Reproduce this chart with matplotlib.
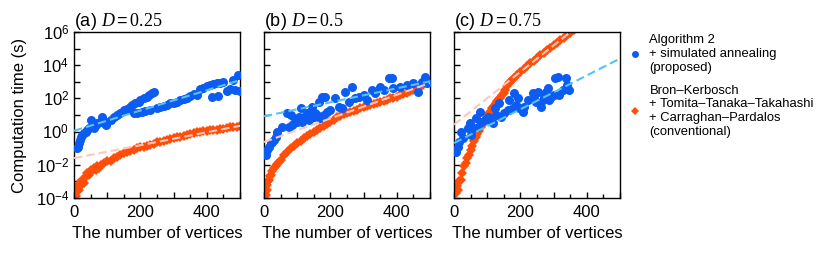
import numpy as np
import matplotlib
matplotlib.use("Agg")
import matplotlib.pyplot as plt
from matplotlib.lines import Line2D
from matplotlib.ticker import MultipleLocator, LogLocator, FuncFormatter, NullFormatter

plt.rcParams['font.family'] = ['Liberation Sans', 'DejaVu Sans']
plt.rcParams['mathtext.fontset'] = 'custom'
plt.rcParams['mathtext.rm'] = 'Liberation Sans'
plt.rcParams['mathtext.it'] = 'Liberation Serif:italic'
plt.rcParams['mathtext.tt'] = 'Liberation Serif'

BLUE = '#0c5cf2'
ORANGE = '#ff4d0a'
BLUE_FIT = '#55c2f2'
PINK_FIT = '#ffc6ba'

# ---- (a) D = 0.25 : values stored as log10(seconds) ----
a_blue_x = [8, 12, 15, 18, 20, 25, 30, 35, 40, 45, 50, 55, 60, 65, 70, 80, 85, 90, 95, 100,
            110, 120, 130, 140, 150, 160, 170, 175, 180, 185, 190, 195, 200, 205, 210, 215,
            220, 225, 230, 235, 240, 250, 260, 270, 280, 290, 300, 310, 320, 330, 340, 350,
            360, 370, 380, 390, 400, 410, 415, 420, 430, 435, 440, 450, 460, 470, 480, 485, 495, 500]
a_blue_log = [-1.0, -0.9, -0.7, -0.5, -0.3, -0.2, -0.1, 0.0, 0.1, 0.2, 0.7, 0.3, 0.2, 0.4, 0.5,
              0.6, 0.9, 0.5, 0.4, 0.6, 0.7, 0.9, 1.0, 1.1, 1.3, 1.35, 1.5, 1.6, 1.15, 1.7, 1.1,
              1.8, 1.9, 1.2, 2.0, 1.25, 2.1, 2.2, 1.3, 2.3, 2.4, 1.4, 1.5, 1.55, 1.6, 1.7, 1.75,
              1.8, 1.9, 1.95, 2.05, 2.15, 2.25, 2.2, 2.55, 2.65, 2.75, 2.8, 2.1, 2.85, 2.9, 2.15,
              2.95, 3.0, 2.45, 2.55, 3.1, 2.5, 3.4, 2.45]
a_orange_x = [5, 8, 10, 12, 15, 18, 20, 22, 25, 28, 30, 35, 40, 45, 50, 55, 60, 65, 70, 75, 80,
              90, 100, 110, 120, 130, 140, 150, 160, 170, 180, 190, 200, 210, 220, 230, 240, 250,
              260, 270, 280, 290, 300, 310, 320, 330, 340, 350, 360, 370, 380, 390, 400, 410,
              420, 430, 440, 450, 460, 470, 480, 490, 500]
a_orange_log = [-3.9, -3.6, -3.4, -3.2, -3.5, -3.3, -3.0, -3.2, -3.0, -2.9, -3.1, -2.7, -2.5,
                -2.6, -2.3, -2.4, -2.2, -2.3, -2.1, -2.2, -2.0, -1.9, -1.8, -1.75, -1.6, -1.5,
                -1.4, -1.3, -1.2, -1.15, -1.1, -1.0, -0.95, -0.9, -0.85, -0.8, -0.72, -0.65,
                -0.6, -0.55, -0.5, -0.45, -0.4, -0.35, -0.3, -0.25, -0.2, -0.15, -0.1, -0.05,
                0.0, 0.02, 0.05, 0.08, 0.1, 0.12, 0.15, 0.18, 0.2, 0.25, 0.28, 0.3, 0.35]
a_blue_fit = [0.05, 3.1]
a_pink_fit = [-1.6, 0.35]

# ---- (b) D = 0.5 ----
b_blue_x = [5, 10, 15, 20, 25, 30, 35, 40, 55, 70, 75, 80, 85, 90, 95, 100, 105, 110, 115, 120,
            125, 130, 135, 140, 145, 150, 155, 160, 165, 170, 175, 180, 185, 190, 200, 215, 225,
            235, 245, 255, 265, 275, 285, 300, 310, 325, 335, 350, 360, 375, 385, 390, 410, 430,
            450, 465, 475, 485, 490]
b_blue_log = [-1.4, -1.1, -0.9, -0.7, -0.6, -0.5, -0.3, 0.0, 0.3, 1.1, 0.3, 1.0, 0.4, 0.5, 0.7,
              0.6, 0.9, 1.4, 0.6, 0.9, 0.8, 1.1, 0.7, 0.8, 1.5, 0.9, 1.1, 1.0, 1.8, 0.8, 2.1, 1.0,
              2.1, 1.2, 1.3, 2.0, 1.5, 1.45, 2.4, 1.8, 2.7, 2.0, 2.1, 2.2, 1.9, 2.5, 2.3, 2.7, 2.5,
              3.2, 3.2, 2.6, 2.7, 2.8, 2.9, 2.4, 3.0, 3.3, 2.9]
b_orange_x = [5, 8, 10, 12, 15, 18, 20, 25, 30, 35, 40, 45, 50, 60, 70, 80, 90, 100, 110, 120,
              130, 140, 150, 160, 170, 180, 190, 200, 210, 220, 230, 240, 250, 260, 270, 280,
              290, 300, 310, 320, 330, 340, 350, 360, 370, 380, 390, 400, 410, 420, 430, 440,
              450, 460, 470, 480, 490, 500]
b_orange_log = [-3.8, -3.5, -3.2, -3.0, -2.9, -2.7, -2.6, -2.4, -2.2, -2.1, -1.95, -1.85, -1.7,
                -1.4, -1.2, -1.0, -0.85, -0.7, -0.55, -0.4, -0.28, -0.15, -0.02, 0.1, 0.22,
                0.35, 0.48, 0.6, 0.72, 0.85, 0.95, 1.05, 1.1, 1.17, 1.25, 1.32, 1.4, 1.46, 1.52,
                1.6, 1.67, 1.74, 1.8, 1.86, 1.92, 2.0, 2.05, 2.1, 2.18, 2.26, 2.34, 2.42, 2.5,
                2.6, 2.7, 2.8, 2.9, 2.98]
b_blue_fit = [0.92, 3.03]
b_pink_fit = [-0.63, 2.93]

# ---- (c) D = 0.75 ----
c_blue_x = [7, 12, 14, 22, 27, 42, 47, 52, 57, 67, 72, 77, 82, 92, 102, 107, 117, 122, 127, 137,
            142, 152, 162, 167, 177, 182, 187, 192, 197, 207, 212, 222, 237, 242, 247, 252, 262,
            267, 272, 277, 282, 287, 292, 302, 304, 312, 317, 327, 337, 340, 347]
c_blue_log = [-1.2, -0.9, -0.6, 0.0, -0.4, 0.2, 0.5, -0.2, 0.2, 0.8, 0.3, 1.2, 0.6, 0.7, 0.9,
              0.7, 0.5, 1.4, 1.0, 1.7, 0.9, 1.1, 1.3, 1.9, 1.4, 2.3, 1.6, 2.0, 1.4, 1.2, 1.5,
              1.9, 2.3, 2.0, 1.8, 2.4, 1.5, 1.9, 2.2, 2.4, 2.6, 1.9, 2.1, 2.2, 3.2, 3.3, 2.2,
              2.5, 3.2, 2.8, 2.5]
c_orange_x = [5, 10, 12, 15, 20, 25, 30, 35, 40, 45, 50, 55, 60, 65, 70, 75, 80, 85, 90, 95, 100,
              105, 110, 115, 120, 125, 130, 135, 140, 145, 150, 155, 160, 165, 170, 175, 180,
              190, 200, 210, 220, 230, 240, 250, 260, 270, 280, 290, 300, 310, 320, 330, 340,
              350, 360]
c_orange_log = [-3.7, -3.3, -3.5, -3.0, -2.9, -2.5, -2.1, -1.9, -1.6, -1.4, -1.1, -0.85, -0.55,
                -0.35, -0.15, 0.05, 0.25, 0.4, 0.55, 0.75, 0.95, 1.1, 1.25, 1.4, 1.55, 1.7,
                1.82, 1.95, 2.05, 2.2, 2.35, 2.5, 2.75, 2.9, 3.0, 3.1, 3.2, 3.4, 3.6, 3.78,
                3.95, 4.12, 4.28, 4.44, 4.6, 4.75, 4.9, 5.05, 5.2, 5.35, 5.5, 5.65, 5.8, 5.95, 6.1]
c_blue_fit = [-0.69, 4.4]
c_pink_fit = [0.42, 8.37]

fit_x = [0, 500]

panels = [
    ('(a) $D = \\mathtt{0.25}$', a_blue_x, a_blue_log, a_orange_x, a_orange_log, a_blue_fit, a_pink_fit),
    ('(b) $D = \\mathtt{0.5}$', b_blue_x, b_blue_log, b_orange_x, b_orange_log, b_blue_fit, b_pink_fit),
    ('(c) $D = \\mathtt{0.75}$', c_blue_x, c_blue_log, c_orange_x, c_orange_log, c_blue_fit, c_pink_fit),
]

fig = plt.figure(figsize=(8.3, 2.54), dpi=100)
lefts = [74 / 830, 264 / 830, 454 / 830]

for i, (title, bx, by, ox, oy, bfit, pfit) in enumerate(panels):
    ax = fig.add_axes([lefts[i], 56 / 254, 166 / 830, 166 / 254])
    ax.plot(ox, 10 ** np.array(oy), linestyle='none', marker='D', markersize=5.3,
            color=ORANGE, markeredgewidth=0, zorder=2)
    ax.plot(bx, 10 ** np.array(by), linestyle='none', marker='o', markersize=6.5,
            color=BLUE, markeredgewidth=0, zorder=3)
    ax.plot(fit_x, 10 ** np.array(pfit), color=PINK_FIT, lw=1.5, dashes=(4, 2), zorder=4)
    ax.plot(fit_x, 10 ** np.array(bfit), color=BLUE_FIT, lw=1.5, dashes=(4, 2), zorder=5)

    ax.set_yscale('log')
    ax.set_xlim(0, 500)
    ax.set_ylim(1e-4, 1e6)
    ax.xaxis.set_major_locator(MultipleLocator(100))
    ax.xaxis.set_major_formatter(FuncFormatter(lambda v, p: '%d' % v if v % 200 == 0 else ''))
    ax.yaxis.set_major_locator(LogLocator(base=10, numticks=20))
    ax.yaxis.set_major_formatter(FuncFormatter(
        lambda v, p: '$10^{%d}$' % round(np.log10(v)) if round(np.log10(v)) % 2 == 0 else ''))
    ax.minorticks_on()
    ax.yaxis.set_minor_locator(LogLocator(base=10, subs=[1.0], numticks=20))
    ax.yaxis.set_minor_formatter(NullFormatter())
    ax.xaxis.set_minor_locator(MultipleLocator(50))
    ax.tick_params(which='both', direction='in', labelsize=12, width=1)
    ax.tick_params(axis='x', which='both', pad=5)
    ax.tick_params(which='major', length=4.5)
    ax.tick_params(which='minor', length=3)
    if i > 0:
        ax.set_yticklabels([])
    else:
        ax.set_ylabel('Computation time (s)', fontsize=12, labelpad=6)
    ax.set_xlabel('The number of vertices', fontsize=12, labelpad=4)
    ax.set_title(title, loc='left', fontsize=13, pad=3)
    for s in ax.spines.values():
        s.set_linewidth(1)

handles = [
    Line2D([], [], linestyle='none', marker='o', markersize=5, color=BLUE, markeredgewidth=0),
    Line2D([], [], linestyle='none', marker='D', markersize=4.5, color=ORANGE, markeredgewidth=0),
]
labels = [
    'Algorithm 2\n+ simulated annealing\n(proposed)',
    'Bron\u2013Kerbosch\n+ Tomita\u2013Tanaka\u2013Takahashi\n+ Carraghan\u2013Pardalos\n(conventional)',
]
fig.legend(handles, labels, loc='upper left', bbox_to_anchor=(0.751, 0.89), frameon=False,
           fontsize=9.4, handlelength=0.8, handletextpad=0.7, labelspacing=0.8, borderpad=0)

fig.savefig('out.png', dpi=100)
